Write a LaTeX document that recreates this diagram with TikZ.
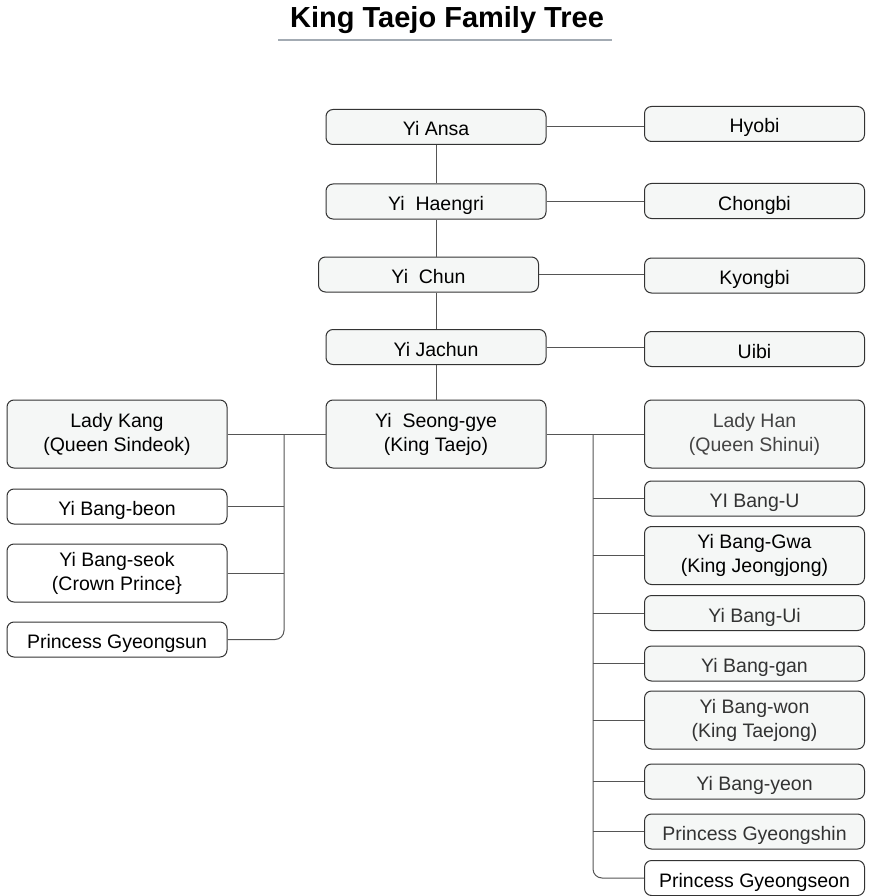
\documentclass[tikz,border=0pt]{standalone}
\usepackage{fontspec}
\setmainfont{Liberation Sans}
\usetikzlibrary{calc}
\definecolor{boxfill}{HTML}{F5F7F6}
\definecolor{boxline}{HTML}{333333}
\definecolor{wireline}{HTML}{555555}
\definecolor{txtgray}{HTML}{333333}
\definecolor{txtlight}{HTML}{444444}
\definecolor{ruleblue}{HTML}{A3ABB3}
\tikzset{
  famebox/.style={draw=boxline, line width=1pt, fill=boxfill, rounded corners=7pt,
    minimum width=220pt, minimum height=35pt, inner sep=0pt, align=center,
    font=\fontsize{19.5}{24}\selectfont, text=black},
  oneline/.style={text height=23pt, text depth=5pt},
  whitebox/.style={famebox, fill=white},
  tallbox/.style={minimum height=68pt},
  midbox/.style={minimum height=58pt},
  wire/.style={draw=wireline, line width=1pt},
}
\begin{document}
\begin{tikzpicture}[x=1pt,y=-1pt]
\useasboundingbox (0,0) rectangle (870,896);
% title
\node[font=\fontsize{29}{32}\selectfont\bfseries] (title) at (447,20) {King Taejo Family Tree};
\draw[ruleblue, line width=2.5pt] (278,40) -- (612,40);
% ancestors
\node[famebox, oneline] (ansa) at (436,127) {Yi Ansa};
\node[famebox, oneline] (hyobi) at (754.5,124) {Hyobi};
\node[famebox, oneline] (haengri) at (436,201.5) {Yi\ \ Haengri};
\node[famebox, oneline] (chongbi) at (754.5,201) {Chongbi};
\node[famebox, oneline] (chun) at (428.5,274.5) {Yi\ \ Chun};
\node[famebox, oneline] (kyongbi) at (754.5,275.5) {Kyongbi};
\node[famebox, oneline] (jachun) at (436,347) {Yi Jachun};
\node[famebox, oneline] (uibi) at (754.5,349) {Uibi};
\node[famebox, tallbox] (seong) at (436,434) {Yi\ \ Seong-gye\\(King Taejo)};
% left side
\node[famebox, tallbox] (kang) at (117,434) {Lady Kang\\(Queen Sindeok)};
\node[whitebox, oneline] (beon) at (117,506.5) {Yi Bang-beon};
\node[whitebox, midbox] (seok) at (117,573) {Yi Bang-seok\\(Crown Prince\}};
\node[whitebox, oneline] (gsun) at (117,639.5) {Princess Gyeongsun};
% right side
\node[famebox, tallbox, text=txtlight] (han) at (754.5,434) {Lady Han\\(Queen Shinui)};
\node[famebox, oneline, text=txtgray] (bangu) at (754.5,498.5) {YI Bang-U};
\node[famebox, midbox] (gwa) at (754.5,555.5) {Yi Bang-Gwa\\(King Jeongjong)};
\node[famebox, oneline, text=txtgray] (ui) at (754.5,613) {Yi Bang-Ui};
\node[famebox, oneline, text=txtgray] (gan) at (754.5,663.5) {Yi Bang-gan};
\node[famebox, midbox, text=txtgray] (won) at (754.5,720) {Yi Bang-won\\(King Taejong)};
\node[famebox, oneline, text=txtgray] (yeon) at (754.5,781.5) {Yi Bang-yeon};
\node[famebox, oneline, text=txtgray] (gshin) at (754.5,831.5) {Princess Gyeongshin};
\node[whitebox, oneline] (gseon) at (754.5,878) {Princess Gyeongseon};
% trunk of ancestors
\draw[wire] (ansa.south) -- (haengri.north);
\draw[wire] (haengri.south) -- (haengri.south |- chun.north);
\draw[wire] (haengri.south |- chun.south) -- (jachun.north);
\draw[wire] (jachun.south) -- (seong.north);
% spouses
\draw[wire] (ansa.east) -- (ansa.east -| hyobi.west);
\draw[wire] (haengri.east) -- (haengri.east -| chongbi.west);
\draw[wire] (chun.east) -- (chun.east -| kyongbi.west);
\draw[wire] (jachun.east) -- (jachun.east -| uibi.west);
\draw[wire] (kang.east) -- (seong.west);
\draw[wire] (seong.east) -- (han.west);
% left children
\coordinate (lt) at (284,434);
\draw[wire, rounded corners=9pt] (lt) |- (gsun.east);
\draw[wire] (beon.east) -- (beon.east -| lt);
\draw[wire] (seok.east) -- (seok.east -| lt);
% right children
\coordinate (rt) at (593,434);
\draw[wire, rounded corners=9pt] (rt) |- (gseon.west);
\foreach \c in {bangu,gwa,ui,gan,won,yeon,gshin}
  \draw[wire] (\c.west) -- (\c.west -| rt);
\end{tikzpicture}
\end{document}
